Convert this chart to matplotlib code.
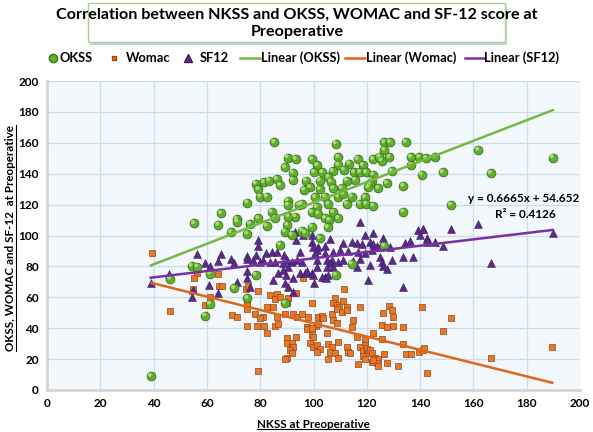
import numpy as np
import matplotlib
matplotlib.use("Agg")
import matplotlib.pyplot as plt
from matplotlib.patches import FancyBboxPatch
from matplotlib.lines import Line2D
import matplotlib.transforms as mtransforms

plt.rcParams['font.family'] = ['Lato', 'DejaVu Sans']
plt.rcParams['font.weight'] = 'bold'

# ---------------- data ----------------
okss_x = [85.3, 90.3, 93.3, 89.3, 92.2, 92.2, 78.3, 81.4, 83.3, 86.2, 87.4, 79.3, 80.0, 82.4, 90.3, 90.3, 94.7, 75.2, 84.3, 65.3, 71.2, 79.3, 93.1,
          108.4, 126.6, 128.7, 134.6, 126.6, 99.5, 109.3, 101.4, 109.3, 113.4, 116.6, 118.5, 122.4, 125.6, 128.5, 124.7, 136.6, 139.7, 142.2, 136.6,
          100.2, 103.3, 107.2, 111.4, 115.2, 117.4, 119.7, 122.4, 129.3, 140.6, 97.2, 102.4, 105.6, 106.5, 112.5, 115.6, 121.8, 121.2, 127.5,
          98.7, 96.5, 102.4, 107.4, 110.6, 120.6, 124.3, 133.7, 100.6, 104.3, 109.3, 111.2, 114.3, 119.3, 95.6, 101.2, 105.6, 112.5, 117.4,
          119.7, 122.4, 99.3, 101.8, 107.4, 133.7, 109.3, 104.3,
          145.6, 161.8, 189.8, 148.5, 166.5, 151.6,
          46.2, 61.2, 59.3, 39.0,
          55.2, 64.3, 71.4, 69.0, 75.2, 76.2, 82.4, 85.6, 90.2, 89.3, 91.8, 90.6, 87.4, 54.3, 56.4, 61.2, 70.2, 78.3, 75.2, 89.3,
          99.3, 95.6, 96.8, 102.4, 105.9, 105.3, 126.5, 114.3, 108.4]
okss_y = [160.3, 150.4, 149.3, 144.1, 140.5, 135.9, 133.5, 134.4, 135.5, 136.4, 132.5, 129.8, 125.1, 125.1, 122.5, 119.7, 119.7, 121.2, 115.2, 114.3, 110.4, 111.1, 112.2,
          159.4, 160.3, 160.3, 160.3, 155.3, 149.3, 150.6, 145.4, 145.6, 146.5, 149.3, 145.4, 149.3, 148.2, 150.6, 151.0, 150.6, 150.6, 149.9, 145.4,
          140.8, 140.8, 141.5, 142.4, 140.8, 140.8, 140.8, 139.3, 141.5, 139.3, 135.5, 135.5, 137.7, 134.8, 135.5, 135.9, 135.5, 133.3, 133.8,
          131.1, 129.5, 129.8, 130.5, 130.5, 131.1, 130.5, 132.0, 124.7, 125.1, 125.1, 126.9, 125.1, 124.7, 120.4, 118.2, 120.4, 120.4, 120.4,
          120.4, 119.1, 115.0, 114.2, 115.0, 115.3, 111.1, 111.1,
          150.6, 155.3, 150.4, 140.8, 140.2, 119.7,
          71.8, 55.7, 48.1, 8.9,
          107.8, 106.8, 108.9, 102.0, 101.0, 107.4, 106.1, 111.1, 106.8, 102.5, 100.3, 112.2, 93.9, 80.3, 79.8, 75.1, 65.7, 74.4, 59.3, 56.1,
          105.7, 103.1, 101.8, 98.1, 110.0, 105.2, 93.2, 81.6, 74.4]

womac_x = [39.3, 46.2, 59.3, 69.3, 71.4,
           56.2, 55.3, 64.3, 54.7, 64.6, 65.5, 74.7, 75.5, 79.3, 75.2, 83.7, 86.2, 85.6, 87.4, 84.9, 82.4, 90.6, 89.9, 61.2,
           75.2, 75.2, 78.0, 81.2, 79.9, 86.2, 89.3, 92.4, 93.7, 75.2, 78.7, 81.4, 85.6, 86.8,
           93.4, 96.2, 111.4, 108.1, 111.2, 107.4, 108.7, 109.7, 112.5, 99.3, 117.4, 128.3, 140.6, 106.8, 126.2, 129.3, 95.6,
           98.0, 101.8, 103.1, 103.7, 107.4, 108.7, 114.9, 97.4, 100.9, 101.8, 114.3, 125.6, 127.5, 129.9, 133.7,
           82.4, 79.3, 90.2, 90.2, 91.8, 92.4, 91.2, 91.8, 90.2, 89.3, 93.4, 97.4, 99.3, 99.4, 108.7, 110.6, 112.5,
           98.7, 99.9, 101.4, 102.4, 101.2, 105.6, 106.8, 109.3, 106.2, 108.1, 99.7, 104.9, 109.3, 105.6, 112.5, 113.1, 113.7,
           116.4, 117.4, 118.5, 119.3, 119.3, 120.0, 120.6, 121.2, 121.8, 118.7, 119.3, 116.8, 122.5, 125.6, 126.5, 123.1, 124.3,
           123.7, 124.3, 121.8, 122.5, 127.5, 129.7, 133.5, 134.7, 136.5, 139.7, 141.2, 142.5, 131.8,
           151.6, 148.5, 141.5, 166.5, 189.6]
womac_y = [88.4, 51.3, 55.2, 48.5, 47.5,
           76.0, 72.3, 75.1, 65.1, 67.3, 67.3, 65.1, 67.0, 64.4, 58.3, 61.5, 62.1, 58.7, 60.0, 53.5, 53.5, 59.3, 56.5, 60.0,
           55.0, 52.2, 49.2, 47.0, 46.4, 47.5, 49.2, 49.2, 47.0, 41.4, 41.4, 41.4, 41.4, 42.5,
           63.0, 72.3, 65.1, 59.3, 57.8, 56.5, 55.0, 53.5, 53.9, 56.1, 53.5, 54.4, 53.5, 49.2, 50.0, 51.8, 49.2,
           47.0, 47.5, 47.9, 46.4, 45.3, 43.2, 45.3, 40.5, 41.4, 42.5, 40.5, 42.1, 41.0, 41.4, 40.6,
           37.1, 12.3, 33.5, 30.6, 30.2, 28.0, 25.9, 23.7, 20.5, 19.8, 34.5, 39.3, 39.9, 35.6, 52.2, 50.6, 51.8,
           30.2, 28.0, 29.1, 26.3, 24.7, 29.8, 28.0, 31.2, 24.7, 24.0, 34.5, 36.7, 20.5, 19.8, 28.0, 24.7, 23.7,
           34.1, 28.0, 25.4, 31.3, 32.8, 26.3, 24.2, 25.9, 23.7, 22.0, 19.8, 16.8, 37.1, 32.8, 23.3, 20.5, 19.8,
           17.2, 15.5, 18.3, 19.4, 17.2, 47.0, 29.8, 23.3, 23.3, 24.8, 25.9, 11.2, 15.5,
           46.4, 38.4, 27.0, 21.0, 27.6]

sf12_x = [38.9, 45.9,
          56.2, 59.3, 61.2, 65.3, 64.3, 69.0, 70.2, 74.9, 75.2, 78.4, 79.1, 79.2, 77.4, 82.2, 84.3, 86.2, 79.9, 81.2, 83.7, 85.6,
          88.9, 89.9, 91.8, 93.7, 88.7, 90.6, 93.1, 75.2, 86.8, 88.7, 89.7, 92.4, 75.2, 84.9, 89.3, 71.4, 60.9, 54.9, 54.3, 64.3,
          76.2, 90.6, 92.4,
          117.4, 95.9, 99.3, 99.3, 93.4, 104.3, 106.2, 111.2, 114.3, 116.2, 119.3, 122.4, 126.2, 118.1, 121.2, 122.4, 123.9,
          134.3, 136.2, 140.0, 139.3, 141.2, 142.5, 99.9, 101.8, 101.2, 100.6, 94.9, 104.3, 107.4, 110.0, 113.0, 116.8, 119.3,
          121.8, 125.0, 128.7, 95.6, 101.2, 104.9, 106.8, 109.3, 111.2, 114.9, 117.4, 125.0, 125.6, 129.3, 133.7, 137.5,
          106.2, 107.4, 104.9, 101.2, 121.2, 126.2, 127.5, 116.2, 94.9, 96.8, 97.4, 99.3, 99.9, 103.1, 104.3, 104.7, 105.6,
          100.2, 120.3, 133.7,
          141.2, 151.6, 161.8, 189.8, 166.5, 148.5, 145.6, 142.5, 142.5]
sf12_y = [69.5, 74.8,
          88.0, 81.9, 80.3, 88.0, 83.7, 84.5, 81.9, 86.7, 84.5, 87.4, 93.2, 97.1, 84.1, 88.4, 89.5, 89.5, 83.0, 84.1, 83.0, 83.0,
          87.4, 84.1, 83.0, 84.1, 81.9, 79.8, 102.5, 77.0, 75.5, 77.7, 74.4, 72.3, 72.3, 70.9, 69.5, 70.2, 68.0, 64.7, 60.0, 63.0,
          66.9, 66.9, 63.6,
          108.9, 100.3, 100.3, 96.0, 97.1, 93.2, 97.5, 95.3, 96.0, 94.9, 100.3, 101.4, 98.1, 94.5, 96.0, 94.5, 93.2,
          94.9, 96.6, 100.3, 103.6, 103.9, 97.5, 92.8, 92.4, 90.6, 88.4, 89.5, 88.9, 89.5, 90.6, 90.2, 89.5, 88.9,
          90.6, 92.8, 92.8, 83.1, 84.1, 84.1, 84.1, 83.1, 84.1, 83.7, 84.5, 86.3, 83.1, 84.1, 86.3, 86.3,
          81.9, 79.8, 79.8, 79.8, 80.9, 80.3, 78.1, 79.4, 75.5, 75.5, 76.8, 75.9, 74.4, 73.3, 73.3, 72.3, 74.4,
          69.0, 70.9, 66.6,
          104.5, 103.9, 107.4, 101.4, 82.4, 93.2, 96.0, 98.1, 96.0]

# linear trend lines (slope, intercept) as displayed
trend_okss = [0.6665, 54.652]
trend_womac = [-0.430, 86.2]
trend_sf12 = [0.205, 64.7]

xticks = [0, 20, 40, 60, 80, 100, 120, 140, 160, 180, 200]
yticks = [0, 20, 40, 60, 80, 100, 120, 140, 160, 180, 200]

title = "Correlation between NKSS and OKSS, WOMAC and SF-12 score at\nPreoperative"
xlabel = "NKSS at Preoperative"
ylabel = "OKSS, WOMAC and SF-12  at Preoperative"
legend_labels = ['OKSS', 'Womac', 'SF12', 'Linear (OKSS)', 'Linear (Womac)', 'Linear (SF12)']

C_GREEN = '#62ad2e'
C_GREEN_E = '#3b7419'
C_ORANGE = '#e5782a'
C_ORANGE_E = '#9a4510'
C_PURPLE = '#5a2a88'
C_PURPLE_E = '#3c1a60'
C_LGREEN = '#77b844'
C_LORANGE = '#e0661a'
C_LPURPLE = '#7a30a0'

# ---------------- figure ----------------
W, H = 593, 432
fig = plt.figure(figsize=(W / 100, H / 100), dpi=100)
fig.patch.set_facecolor('white')
L, R, T, B = 47, 580, 81, 390
ax = fig.add_axes([L / W, 1 - B / H, (R - L) / W, (B - T) / H])
ax.set_facecolor('#f2f8fc')
ax.set_xlim(0, 200)
ax.set_ylim(0, 200)
ax.set_xticks(xticks)
ax.set_yticks(yticks)
ax.grid(True, color='#c9dfee', lw=0.9)
ax.set_axisbelow(True)
for s in ['top', 'right']:
    ax.spines[s].set_visible(False)
for s in ['left', 'bottom']:
    ax.spines[s].set_color('#d4d4d4')
    ax.spines[s].set_linewidth(2)
ax.tick_params(length=0, labelsize=8.5, pad=6)
for lab in ax.get_xticklabels() + ax.get_yticklabels():
    lab.set_fontweight('bold')


def draw_trend(xs, coef, color):
    x0, x1 = min(xs), max(xs)
    xx = np.array([x0, x1])
    ax.plot(xx, coef[0] * xx + coef[1], color=color, lw=1.8, zorder=4)


ax.scatter(womac_x, womac_y, marker='s', s=13, facecolor=C_ORANGE, edgecolor=C_ORANGE_E, lw=0.5, zorder=3)
ax.scatter(sf12_x, sf12_y, marker='^', s=32, facecolor=C_PURPLE, edgecolor=C_PURPLE_E, lw=0.4, zorder=3)
ax.scatter(okss_x, okss_y, marker='o', s=40, facecolor=C_GREEN, edgecolor=C_GREEN_E, lw=0.6, zorder=3)
hl = mtransforms.offset_copy(ax.transData, fig=fig, x=-0.8, y=1.0, units='points')
ax.scatter(okss_x, okss_y, marker='o', s=8, facecolor='#a6dc78', edgecolor='none', zorder=3.1, transform=hl)

draw_trend(okss_x, trend_okss, C_LGREEN)
draw_trend(womac_x, trend_womac, C_LORANGE)
draw_trend(sf12_x, trend_sf12, C_LPURPLE)

fig.text(524 / W, 1 - 199 / H, "y = 0.6665x + 54.652", ha='center', va='center',
         fontsize=8.5, fontweight='bold', color='black', zorder=6)
fig.text(525 / W, 1 - 214 / H, "R² = 0.4126", ha='center', va='center',
         fontsize=8.5, fontweight='bold', color='black', zorder=6)

# title box
bx0, bx1, by0, by1 = 88, 505, 3, 42
shadow = FancyBboxPatch(((bx0 + 2) / W, 1 - (by1 + 3) / H), (bx1 - bx0) / W, (by1 - by0) / H, boxstyle='square,pad=0',
                        transform=fig.transFigure, facecolor='#c6d3e6', edgecolor='none', zorder=0)
fig.patches.append(shadow)
box = FancyBboxPatch((bx0 / W, 1 - by1 / H), (bx1 - bx0) / W, (by1 - by0) / H, boxstyle='square,pad=0',
                     transform=fig.transFigure, facecolor='white', edgecolor='#a9d18e', lw=1.0, zorder=1)
fig.patches.append(box)
fig.text(297 / W, 1 - 23.5 / H, title, ha='center', va='center', fontsize=11.6, fontweight='bold',
         linespacing=1.3, zorder=2)

# legend (manual placement)
ly = 1 - 58 / H
fig.add_artist(Line2D([53 / W], [ly], ls='none', marker='o', ms=6, mfc=C_GREEN, mec=C_GREEN_E, transform=fig.transFigure))
fig.add_artist(Line2D([114 / W], [ly], ls='none', marker='s', ms=3.5, mfc=C_ORANGE, mec=C_ORANGE_E, transform=fig.transFigure))
fig.add_artist(Line2D([188 / W], [ly], ls='none', marker='^', ms=5.5, mfc=C_PURPLE, mec=C_PURPLE_E, transform=fig.transFigure))
fig.add_artist(Line2D([240 / W, 260 / W], [ly, ly], color=C_LGREEN, lw=1.8, transform=fig.transFigure))
fig.add_artist(Line2D([345 / W, 365 / W], [ly, ly], color=C_LORANGE, lw=1.8, transform=fig.transFigure))
fig.add_artist(Line2D([465 / W, 484 / W], [ly, ly], color=C_LPURPLE, lw=1.8, transform=fig.transFigure))
for xpx, lab in zip([60, 126, 200, 261, 366, 484], legend_labels):
    fig.text(xpx / W, ly, lab, ha='left', va='center', fontsize=9.3, fontweight='bold')

# axis labels with underline
xl = fig.text(313 / W, 1 - 424 / H, xlabel, ha='center', va='center', fontsize=8.4, fontweight='bold')
yl = fig.text(11 / W, 1 - 238 / H, ylabel, ha='center', va='center', fontsize=8.4, fontweight='bold', rotation=90)

fig.canvas.draw()
r = fig.canvas.get_renderer()
bb = xl.get_window_extent(r)
fig.add_artist(Line2D([bb.x0 / W, bb.x1 / W], [(bb.y0 + 0.5) / H, (bb.y0 + 0.5) / H], color='black', lw=0.8,
                      transform=fig.transFigure))
bb = yl.get_window_extent(r)
fig.add_artist(Line2D([(bb.x1 - 0.5) / W, (bb.x1 - 0.5) / W], [bb.y0 / H, bb.y1 / H], color='black', lw=0.8,
                      transform=fig.transFigure))

fig.savefig('out.png', dpi=100, facecolor='white')
